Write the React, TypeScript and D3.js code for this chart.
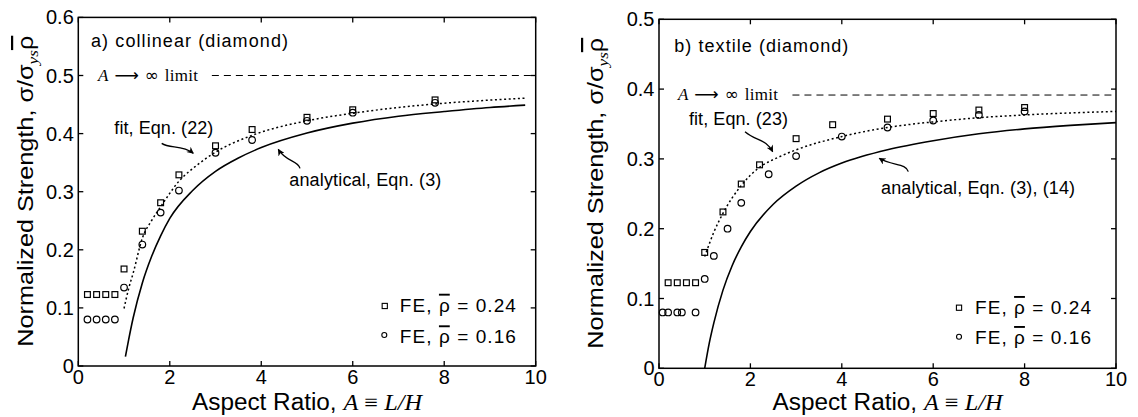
import React from "react";
import * as d3 from "d3";

// ---------- shared axis ticks ----------
const xTickValues = [0, 2, 4, 6, 8, 10];
const xTickLabels = ["0", "2", "4", "6", "8", "10"];
const yTickValuesA = [0, 0.1, 0.2, 0.3, 0.4, 0.5, 0.6];
const yTickLabelsA = ["0", "0.1", "0.2", "0.3", "0.4", "0.5", "0.6"];
const yTickValuesB = [0, 0.1, 0.2, 0.3, 0.4, 0.5];
const yTickLabelsB = ["0", "0.1", "0.2", "0.3", "0.4", "0.5"];

// ---------- panel a) collinear (diamond) ----------
const aSquaresX = [0.2, 0.4, 0.6, 0.8, 1.0, 1.4, 1.8, 2.2, 3.0, 3.8, 5.0, 6.0, 7.8];
const aSquaresY = [0.123, 0.123, 0.123, 0.123, 0.167, 0.232, 0.281, 0.329, 0.379, 0.407, 0.428, 0.441, 0.458];
const aCirclesX = [0.2, 0.4, 0.6, 0.8, 1.0, 1.4, 1.8, 2.2, 3.0, 3.8, 5.0, 6.0, 7.8];
const aCirclesY = [0.08, 0.08, 0.08, 0.08, 0.135, 0.209, 0.264, 0.302, 0.367, 0.389, 0.422, 0.436, 0.453];
const aFitX = [1.0, 1.1, 1.2, 1.4, 1.6, 1.8, 2.2, 2.6, 3.0, 3.8, 5.0, 6.0, 7.0, 7.8, 9.77];
const aFitY = [0.099, 0.133, 0.16, 0.22, 0.25, 0.274, 0.318, 0.346, 0.368, 0.397, 0.422, 0.435, 0.445, 0.451, 0.461];
const aAnalyticX = [1.03, 1.1, 1.2, 1.4, 1.6, 1.8, 2.0, 2.5, 3.0, 3.5, 4.0, 5.0, 6.0, 7.0, 8.0, 9.0, 9.77];
const aAnalyticY = [0.016, 0.045, 0.083, 0.143, 0.188, 0.224, 0.254, 0.302, 0.335, 0.358, 0.376, 0.401, 0.418, 0.43, 0.438, 0.445, 0.449];
const aLimit = 0.5;

// ---------- panel b) textile (diamond) ----------
const bSquaresX = [0.2, 0.4, 0.6, 0.8, 1.0, 1.4, 1.8, 2.2, 3.0, 3.8, 5.0, 6.0, 7.0, 8.0];
const bSquaresY = [0.1226, 0.1226, 0.1226, 0.1226, 0.166, 0.224, 0.264, 0.2915, 0.329, 0.349, 0.357, 0.365, 0.37, 0.3736];
const bCirclesX = [0.08, 0.2, 0.4, 0.5, 0.8, 1.0, 1.2, 1.5, 1.8, 2.4, 3.0, 4.0, 5.0, 6.0, 7.0, 8.0];
const bCirclesY = [0.08, 0.08, 0.08, 0.08, 0.08, 0.128, 0.161, 0.2, 0.237, 0.278, 0.304, 0.332, 0.345, 0.355, 0.363, 0.368];
const bFitX = [1.0, 1.2, 1.4, 1.8, 2.2, 2.6, 3.0, 4.0, 5.0, 6.0, 7.0, 8.0, 10.0];
const bFitY = [0.16, 0.195, 0.222, 0.262, 0.288, 0.302, 0.313, 0.332, 0.345, 0.353, 0.359, 0.363, 0.368];
const bAnalyticX = [1.0, 1.1, 1.2, 1.4, 1.6, 1.8, 2.0, 2.5, 3.0, 3.5, 4.0, 5.0, 6.0, 7.0, 8.0, 9.0, 10.0];
const bAnalyticY = [0.0, 0.036, 0.065, 0.112, 0.147, 0.174, 0.196, 0.235, 0.261, 0.28, 0.294, 0.313, 0.326, 0.336, 0.343, 0.348, 0.352];
const bLimit = 0.3915;

const SANS = "'Liberation Sans', Arial, Helvetica, sans-serif";
const SERIF = "'Liberation Serif', 'Times New Roman', serif";
const SYM = "'DejaVu Sans', 'DejaVu Serif', sans-serif";

type Pt = [number, number];

interface PanelCfg {
  left: number;
  right: number;
  top: number;
  bottom: number;
  yMax: number;
  yTicks: number[];
  yLabels: string[];
  squaresX: number[];
  squaresY: number[];
  circlesX: number[];
  circlesY: number[];
  fitX: number[];
  fitY: number[];
  anX: number[];
  anY: number[];
  limit: number;
  limitStart: number;
  title: string;
  titleAt: Pt;
  titleLen: number;
  limitTextAt: Pt;
  fitText: string;
  fitTextAt: Pt;
  anText: string;
  anTextAt: Pt;
  anLen: number;
  fitArrow: Pt[];
  anArrow: Pt[];
  legendSq: Pt;
  legendCi: Pt;
  legendTextX: number;
  legendBase1: number;
  legendBase2: number;
  yLabelX: number;
}

const zip = (a: number[], b: number[]): Pt[] => a.map((v, i) => [v, b[i]]);

function RhoBar() {
  return <tspan textDecoration="overline">ρ</tspan>;
}

function Panel({ c }: { c: PanelCfg }) {
  const x = d3.scaleLinear().domain([0, 10]).range([c.left, c.right]);
  const y = d3.scaleLinear().domain([0, c.yMax]).range([c.bottom, c.top]);
  const line = d3
    .line<Pt>()
    .x((d) => x(d[0]))
    .y((d) => y(d[1]))
    .curve(d3.curveMonotoneX);

  const arrowPath = (pts: Pt[]) => {
    const p = d3.path();
    p.moveTo(x(pts[0][0]), y(pts[0][1]));
    p.bezierCurveTo(
      x(pts[1][0]), y(pts[1][1]),
      x(pts[2][0]), y(pts[2][1]),
      x(pts[3][0]), y(pts[3][1])
    );
    return p.toString();
  };

  const tk = 5;
  const sq = 5.8;
  const midY = (c.top + c.bottom) / 2;
  const midX = (c.left + c.right) / 2;

  return (
    <g>
      {/* curves */}
      <path d={line(zip(c.anX, c.anY)) || ""} fill="none" stroke="#000" strokeWidth={1.6} />
      <path
        d={line(zip(c.fitX, c.fitY)) || ""}
        fill="none"
        stroke="#000"
        strokeWidth={1.5}
        strokeDasharray="2,2.6"
      />
      <line
        x1={x(c.limitStart)}
        x2={x(10)}
        y1={y(c.limit)}
        y2={y(c.limit)}
        stroke="#000"
        strokeWidth={1}
        strokeDasharray="7,5"
      />
      {/* markers */}
      {c.squaresX.map((v, i) => (
        <rect
          key={"s" + i}
          x={x(v) - sq / 2}
          y={y(c.squaresY[i]) - sq / 2}
          width={sq}
          height={sq}
          fill="none"
          stroke="#000"
          strokeWidth={1.2}
        />
      ))}
      {c.circlesX.map((v, i) => (
        <circle
          key={"c" + i}
          cx={x(v)}
          cy={y(c.circlesY[i])}
          r={3.3}
          fill="none"
          stroke="#000"
          strokeWidth={1.2}
        />
      ))}
      {/* frame */}
      <rect
        x={c.left}
        y={c.top}
        width={c.right - c.left}
        height={c.bottom - c.top}
        fill="none"
        stroke="#000"
        strokeWidth={1.5}
      />
      {xTickValues.map((v, i) => (
        <g key={"xt" + i}>
          <line x1={x(v)} x2={x(v)} y1={c.bottom} y2={c.bottom - tk} stroke="#000" strokeWidth={1.3} />
          <line x1={x(v)} x2={x(v)} y1={c.top} y2={c.top + tk} stroke="#000" strokeWidth={1.3} />
          <text x={x(v)} y={c.bottom + 18} textAnchor="middle" fontFamily={SANS} fontSize={20}>
            {xTickLabels[i]}
          </text>
        </g>
      ))}
      {c.yTicks.map((v, i) => (
        <g key={"yt" + i}>
          <line x1={c.left} x2={c.left + tk} y1={y(v)} y2={y(v)} stroke="#000" strokeWidth={1.3} />
          <line x1={c.right} x2={c.right - tk} y1={y(v)} y2={y(v)} stroke="#000" strokeWidth={1.3} />
          <text x={c.left - 4.5} y={y(v) + 7} textAnchor="end" fontFamily={SANS} fontSize={20}>
            {c.yLabels[i]}
          </text>
        </g>
      ))}
      {/* axis labels */}
      <text
        x={midX - 115}
        y={410}
        fontFamily={SANS}
        fontSize={23}
        textLength={230}
        lengthAdjust="spacingAndGlyphs"
      >
        Aspect Ratio,{" "}
        <tspan fontFamily={SERIF} fontStyle="italic">
          A
        </tspan>
        <tspan fontFamily={SERIF}> ≡ </tspan>
        <tspan fontFamily={SERIF} fontStyle="italic">
          L/H
        </tspan>
      </text>
      <text
        transform={`translate(${c.yLabelX},${midY + 155}) rotate(-90)`}
        fontFamily={SANS}
        fontSize={22}
        textLength={311}
        lengthAdjust="spacingAndGlyphs"
      >
        Normalized Strength, σ/σ
        <tspan fontFamily={SERIF} fontStyle="italic" fontSize={15} dy={5}>
          ys
        </tspan>
        <tspan dy={-5} textDecoration="overline">ρ</tspan>
      </text>
      {/* annotations */}
      <text
        x={x(c.titleAt[0])}
        y={y(c.titleAt[1])}
        fontFamily={SANS}
        fontSize={18}
        textLength={c.titleLen}
        lengthAdjust="spacing"
      >
        {c.title}
      </text>
      <text
        x={x(c.limitTextAt[0])}
        y={y(c.limitTextAt[1])}
        fontFamily={SERIF}
        fontSize={17}
        textLength={100}
        lengthAdjust="spacing"
      >
        <tspan fontStyle="italic">A</tspan>
        <tspan fontFamily={SYM}> ⟶ ∞ </tspan>limit
      </text>
      <text
        x={x(c.fitTextAt[0])}
        y={y(c.fitTextAt[1])}
        fontFamily={SANS}
        fontSize={18}
        textLength={99}
        lengthAdjust="spacing"
      >
        {c.fitText}
      </text>
      <text
        x={x(c.anTextAt[0])}
        y={y(c.anTextAt[1])}
        fontFamily={SANS}
        fontSize={18}
        textLength={c.anLen}
        lengthAdjust="spacing"
      >
        {c.anText}
      </text>
      <path d={arrowPath(c.fitArrow)} fill="none" stroke="#000" strokeWidth={1.3} markerEnd="url(#arrowhead)" />
      <path d={arrowPath(c.anArrow)} fill="none" stroke="#000" strokeWidth={1.3} markerEnd="url(#arrowhead)" />
      {/* legend */}
      <rect
        x={x(c.legendSq[0]) - 2.6}
        y={y(c.legendSq[1]) - 2.6}
        width={5.2}
        height={5.2}
        fill="none"
        stroke="#000"
        strokeWidth={1.1}
      />
      <circle cx={x(c.legendCi[0])} cy={y(c.legendCi[1])} r={2.5} fill="none" stroke="#000" strokeWidth={1.1} />
      <text
        x={x(c.legendTextX)}
        y={y(c.legendBase1)}
        fontFamily={SANS}
        fontSize={19}
        textLength={116}
        lengthAdjust="spacing"
      >
        FE, <RhoBar /> = 0.24
      </text>
      <text
        x={x(c.legendTextX)}
        y={y(c.legendBase2)}
        fontFamily={SANS}
        fontSize={19}
        textLength={116}
        lengthAdjust="spacing"
      >
        FE, <RhoBar /> = 0.16
      </text>
    </g>
  );
}

const panelA: PanelCfg = {
  left: 78.3,
  right: 535.7,
  top: 17.4,
  bottom: 366,
  yMax: 0.6,
  yTicks: yTickValuesA,
  yLabels: yTickLabelsA,
  squaresX: aSquaresX,
  squaresY: aSquaresY,
  circlesX: aCirclesX,
  circlesY: aCirclesY,
  fitX: aFitX,
  fitY: aFitY,
  anX: aAnalyticX,
  anY: aAnalyticY,
  limit: aLimit,
  limitStart: 2.92,
  title: "a) collinear (diamond)",
  titleAt: [0.278, 0.5495],
  titleLen: 197,
  limitTextAt: [0.433, 0.491],
  fitText: "fit, Eqn. (22)",
  fitTextAt: [0.787, 0.3992],
  anText: "analytical, Eqn. (3)",
  anTextAt: [4.613, 0.3098],
  anLen: 152,
  fitArrow: [
    [1.823, 0.3832],
    [2.005, 0.3734],
    [2.267, 0.382],
    [2.514, 0.366],
  ],
  anArrow: [
    [4.847, 0.3402],
    [4.803, 0.3545],
    [4.541, 0.351],
    [4.372, 0.3729],
  ],
  legendSq: [6.7, 0.1033],
  legendCi: [6.69, 0.0533],
  legendTextX: 7.03,
  legendBase1: 0.0934,
  legendBase2: 0.039,
  yLabelX: 33,
};

const panelB: PanelCfg = {
  left: 659,
  right: 1116,
  top: 19.3,
  bottom: 368.3,
  yMax: 0.5,
  yTicks: yTickValuesB,
  yLabels: yTickLabelsB,
  squaresX: bSquaresX,
  squaresY: bSquaresY,
  circlesX: bCirclesX,
  circlesY: bCirclesY,
  fitX: bFitX,
  fitY: bFitY,
  anX: bAnalyticX,
  anY: bAnalyticY,
  limit: bLimit,
  limitStart: 2.92,
  title: "b) textile (diamond)",
  titleAt: [0.335, 0.4536],
  titleLen: 174,
  limitTextAt: [0.416, 0.3844],
  fitText: "fit, Eqn. (23)",
  fitTextAt: [0.656, 0.3486],
  anText: "analytical, Eqn. (3), (14)",
  anTextAt: [4.858, 0.2497],
  anLen: 194,
  fitArrow: [
    [1.882, 0.339],
    [2.122, 0.3256],
    [2.341, 0.3285],
    [2.488, 0.3103],
  ],
  anArrow: [
    [5.455, 0.2817],
    [5.405, 0.2941],
    [5.098, 0.2898],
    [4.82, 0.3009],
  ],
  legendSq: [6.565, 0.0868],
  legendCi: [6.565, 0.0453],
  legendTextX: 6.915,
  legendBase1: 0.0778,
  legendBase2: 0.0348,
  yLabelX: 603,
};

export default function App() {
  return (
    <svg width={1138} height={417} style={{ position: "absolute", left: 0, top: 0, background: "#fff" }}>
      <defs>
        <marker
          id="arrowhead"
          viewBox="0 0 10 10"
          refX={9}
          refY={5}
          markerWidth={9}
          markerHeight={7}
          markerUnits="userSpaceOnUse"
          orient="auto"
        >
          <path d="M0,0 L10,5 L0,10 L3,5 z" fill="#000" />
        </marker>
      </defs>
      <rect x={0} y={0} width={1138} height={417} fill="#fff" />
      <Panel c={panelA} />
      <Panel c={panelB} />
    </svg>
  );
}
